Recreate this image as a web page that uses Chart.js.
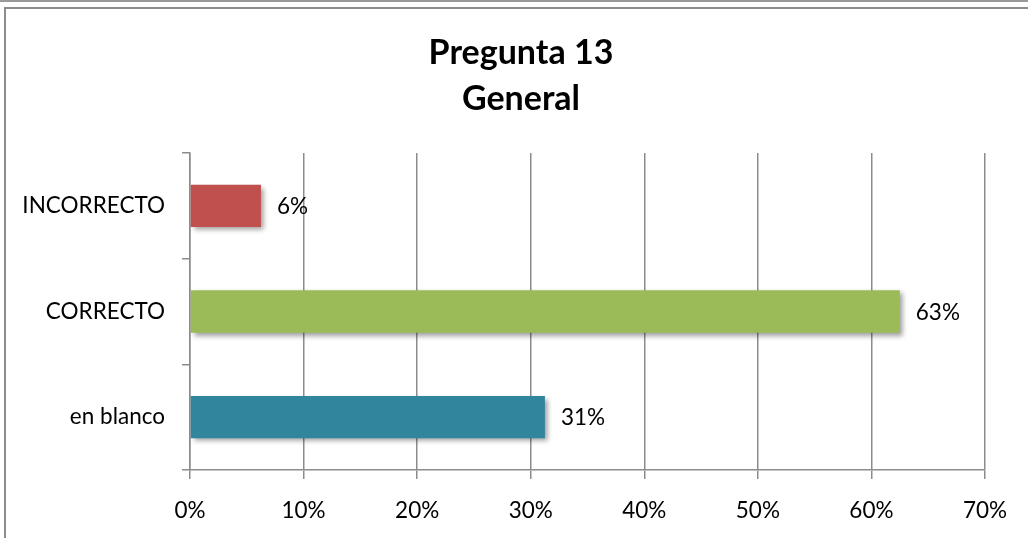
<!DOCTYPE html>
<html>
<head>
<meta charset="utf-8">
<title>Pregunta 13 General</title>
<script src="https://cdn.jsdelivr.net/npm/chart.js@4/dist/chart.umd.min.js"></script>
<style>
  html, body { margin: 0; padding: 0; background: #ffffff; overflow: hidden; }
  #wrap { position: relative; width: 1028px; height: 538px; overflow: hidden; }
  canvas { display: block; }
</style>
</head>
<body>
<div id="wrap"><canvas id="chart" width="1028" height="538"></canvas></div>
<script>
// Answer categories, top to bottom
const categories = ['INCORRECTO', 'CORRECTO', 'en blanco'];
// Share of answers, in percent
const shares = [6.25, 62.5, 31.25];
// One fill per category
const barColors = ['#C0504D', '#9BBB59', '#31859C'];
// Title lines
const titleLines = ['Pregunta 13', 'General'];
// Value axis range and step, in percent
const axisMin = 0;
const axisMax = 70;
const axisStep = 10;

const FONT = 'Lato, "Open Sans", "DejaVu Sans", sans-serif';
const GRID = '#8c8c8c';
const LABEL_SIZE = 22.5;

const pct = v => Math.round(v) + '%';

// Frame, title, bar shadows and value labels
const decor = {
  id: 'decor',
  beforeDraw(chart) {
    const ctx = chart.ctx;
    ctx.save();
    ctx.fillStyle = '#ffffff';
    ctx.fillRect(0, 0, chart.width, chart.height);
    // page rule along the top edge
    ctx.fillStyle = '#9a9a9a';
    ctx.fillRect(0, 0, chart.width, 2);
    // chart frame: left and top sides
    ctx.fillStyle = '#8c8c8c';
    ctx.fillRect(4, 7, chart.width - 4, 2);
    ctx.fillRect(4, 7, 2, chart.height - 7);
    ctx.restore();
  },
  afterDraw(chart) {
    const ctx = chart.ctx;
    ctx.save();
    ctx.fillStyle = '#000000';
    ctx.font = 'bold 34px ' + FONT;
    ctx.textAlign = 'center';
    ctx.textBaseline = 'alphabetic';
    ctx.fillText(titleLines[0], 521, 64);
    ctx.fillText(titleLines[1], 521, 110);
    ctx.restore();
  },
  beforeDatasetsDraw(chart) {
    const ctx = chart.ctx;
    ctx.save();
    ctx.shadowColor = 'rgba(0,0,0,0.38)';
    ctx.shadowBlur = 5;
    ctx.shadowOffsetX = 3;
    ctx.shadowOffsetY = 3;
  },
  afterDatasetsDraw(chart) {
    const ctx = chart.ctx;
    ctx.restore();
    ctx.save();
    ctx.fillStyle = '#000000';
    ctx.font = LABEL_SIZE + 'px ' + FONT;
    ctx.textAlign = 'left';
    ctx.textBaseline = 'middle';
    const meta = chart.getDatasetMeta(0);
    meta.data.forEach((bar, i) => {
      ctx.fillText(pct(chart.data.datasets[0].data[i]), bar.x + 16, bar.y + 1);
    });
    ctx.restore();
  }
};

new Chart(document.getElementById('chart'), {
  type: 'bar',
  data: {
    labels: categories,
    datasets: [{
      data: shares,
      backgroundColor: barColors,
      borderWidth: 0,
      barPercentage: 0.4,
      categoryPercentage: 1.0
    }]
  },
  options: {
    indexAxis: 'y',
    responsive: false,
    animation: false,
    devicePixelRatio: 1,
    layout: { padding: { top: 153, right: 43, bottom: 0, left: 0 } },
    plugins: {
      legend: { display: false },
      title: { display: false },
      tooltip: { enabled: false }
    },
    scales: {
      x: {
        min: axisMin,
        max: axisMax,
        afterFit(scale) { scale.height = 68; },
        ticks: {
          stepSize: axisStep,
          color: '#000000',
          font: { family: FONT, size: LABEL_SIZE },
          padding: 18,
          callback: v => v + '%'
        },
        grid: {
          color: GRID,
          lineWidth: 1.5,
          drawTicks: true,
          tickLength: 9
        },
        border: { display: true, color: GRID, width: 1.5 }
      },
      y: {
        afterFit(scale) { scale.width = 190; },
        ticks: {
          color: '#000000',
          font: { family: FONT, size: LABEL_SIZE },
          padding: 17
        },
        grid: {
          color: GRID,
          lineWidth: 1.5,
          drawOnChartArea: false,
          drawTicks: true,
          tickLength: 8,
          offset: true
        },
        border: { display: true, color: GRID, width: 1.5 }
      }
    }
  },
  plugins: [decor]
});
</script>
</body>
</html>
